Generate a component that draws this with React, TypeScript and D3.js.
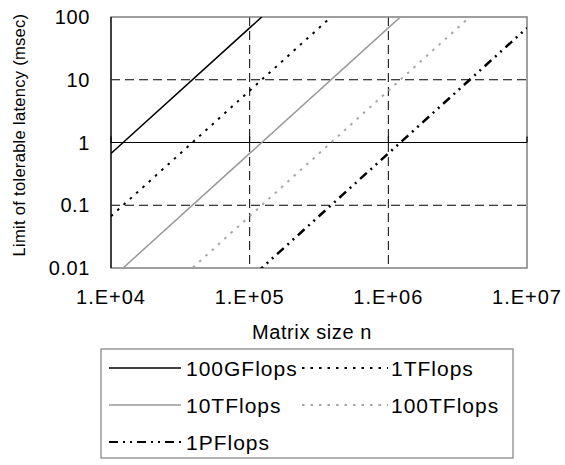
import React from 'react';
import * as d3 from 'd3';

// matrix size n (x) and tolerable latency in msec per machine speed
const sizes = [1e4, 1e5, 1e6, 1e7];
const lat100G = [0.67, 67, 6700, 670000];
const lat1T = [0.067, 6.7, 670, 67000];
const lat10T = [0.0067, 0.67, 67, 6700];
const lat100T = [0.00067, 0.067, 6.7, 670];
const lat1P = [0.000067, 0.0067, 0.67, 67];

const xTicks = [1e4, 1e5, 1e6, 1e7];
const xTickLabels = ['1.E+04', '1.E+05', '1.E+06', '1.E+07'];
const yTicks = [0.01, 0.1, 1, 10, 100];
const yTickLabels = ['0.01', '0.1', '1', '10', '100'];

const seriesNames = ['100GFlops', '1TFlops', '10TFlops', '100TFlops', '1PFlops'];

const FONT = '"Liberation Sans", Arial, sans-serif';

const styles = [
  { stroke: '#000', width: 1.5, dash: undefined },
  { stroke: '#000', width: 2, dash: '2.5,6' },
  { stroke: '#999', width: 1.5, dash: undefined },
  { stroke: '#a6a6a6', width: 2, dash: '2.5,6' },
  { stroke: '#000', width: 2.5, dash: '9,5,2,5,2,5' },
];

export default function App() {
  const W = 565;
  const H = 465;
  const left = 111, right = 527, top = 17, bottom = 268;

  const x = d3.scaleLog().domain([1e4, 1e7]).range([left, right]);
  const y = d3.scaleLog().domain([0.01, 100]).range([bottom, top]);

  const data = [lat100G, lat1T, lat10T, lat100T, lat1P];
  const line = d3
    .line<number>()
    .x((_, i) => x(sizes[i]))
    .y((d) => y(d));

  // legend layout
  const legRows = [368, 405, 442];
  const legendItems = [
    { col: 0, row: 0 },
    { col: 1, row: 0 },
    { col: 0, row: 1 },
    { col: 1, row: 1 },
    { col: 0, row: 2 },
  ];
  const legCols = [
    { x1: 109, x2: 181, tx: 186 },
    { x1: 302, x2: 388, tx: 391 },
  ];

  return (
    <svg
      width={W}
      height={H}
      style={{ position: 'absolute', left: 0, top: 0, background: '#fff' }}
      fontFamily={FONT}
    >
      <defs>
        <clipPath id="plot">
          <rect x={left} y={top} width={right - left} height={bottom - top} />
        </clipPath>
      </defs>

      {/* gridlines */}
      {[0.1, 10].map((v) => (
        <line key={'gy' + v} x1={left} x2={right} y1={y(v)} y2={y(v)} stroke="#000" strokeWidth={1} strokeDasharray="9,5" />
      ))}
      {[1e5, 1e6].map((v) => (
        <line key={'gx' + v} x1={x(v)} x2={x(v)} y1={top} y2={bottom} stroke="#000" strokeWidth={1} strokeDasharray="9,5" />
      ))}

      {/* plot border */}
      <rect x={left} y={top} width={right - left} height={bottom - top} fill="none" stroke="#808080" strokeWidth={1.5} />

      {/* y axis */}
      <line x1={left} x2={left} y1={top} y2={bottom} stroke="#000" strokeWidth={1.2} />
      {/* x axis crossing at 1 */}
      <line x1={left} x2={right} y1={y(1)} y2={y(1)} stroke="#000" strokeWidth={1.2} />
      {xTicks.map((v) => (
        <line key={'xt' + v} x1={x(v)} x2={x(v)} y1={y(1)} y2={y(1) - 6} stroke="#000" strokeWidth={1.2} />
      ))}

      {/* series */}
      <g clipPath="url(#plot)">
        {data.map((d, i) => (
          <path
            key={seriesNames[i]}
            d={line(d) || ''}
            fill="none"
            stroke={styles[i].stroke}
            strokeWidth={styles[i].width}
            strokeDasharray={styles[i].dash}
          />
        ))}
      </g>

      {/* tick labels */}
      {yTicks.map((v, i) => (
        <text key={'yl' + v} x={90} y={y(v)} dy="0.36em" textAnchor="end" fontSize={20} letterSpacing={0.6} fill="#000">
          {yTickLabels[i]}
        </text>
      ))}
      {xTicks.map((v, i) => (
        <text key={'xl' + v} x={x(v)} y={304} textAnchor="middle" fontSize={20} letterSpacing={1} fill="#000">
          {xTickLabels[i]}
        </text>
      ))}

      {/* axis titles */}
      <text x={312} y={339} textAnchor="middle" fontSize={20} letterSpacing={0.6} fill="#000">
        Matrix size n
      </text>
      <text
        transform={`translate(25,135) rotate(-90)`}
        textAnchor="middle"
        fontSize={16.5}
        letterSpacing={0.3}
        fill="#000"
      >
        Limit of tolerable latency (msec)
      </text>

      {/* legend */}
      <rect x={101} y={349} width={412} height={109} fill="#fff" stroke="#808080" strokeWidth={1.2} />
      {legendItems.map((it, i) => {
        const c = legCols[it.col];
        const ry = legRows[it.row];
        return (
          <g key={'lg' + i}>
            <line
              x1={c.x1}
              x2={c.x2}
              y1={ry}
              y2={ry}
              stroke={styles[i].stroke}
              strokeWidth={i === 4 ? 2 : styles[i].width}
              strokeDasharray={styles[i].dash}
            />
            <text x={c.tx} y={ry} dy="0.36em" fontSize={21} letterSpacing={1} fill="#000">
              {seriesNames[i]}
            </text>
          </g>
        );
      })}
    </svg>
  );
}
